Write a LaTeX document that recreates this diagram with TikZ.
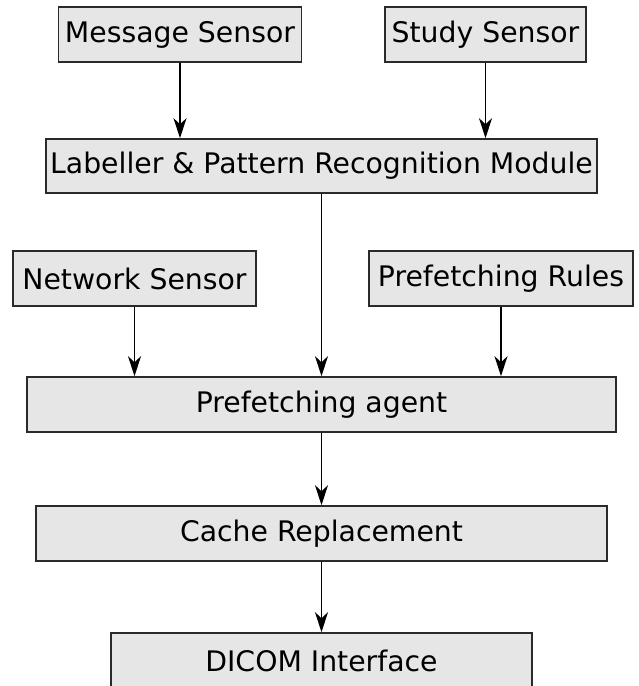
\documentclass[tikz,border=0pt]{standalone}
\usepackage{fontspec}
\setmainfont{DejaVu Sans}
\usetikzlibrary{arrows.meta,positioning}
\definecolor{boxfill}{HTML}{E6E6E6}
\definecolor{boxline}{HTML}{2A2A2A}
\begin{document}
\begin{tikzpicture}[x=1pt,y=-1pt,>={Stealth[length=20pt,width=13pt,inset=6pt]},
  block/.style={draw=boxline,line width=1.6pt,fill=boxfill,inner sep=0pt,
    minimum height=55pt,font=\fontsize{28.3}{32}\selectfont},
  flow/.style={->,line width=1.5pt,black}]
  \useasboundingbox (0,0) rectangle (638,686);
  % sensors on top
  \node[block,minimum width=243pt] (msg) at (180,34.5) {Message Sensor};
  \node[block,minimum width=201pt] (study) at (485.5,34.5) {Study Sensor};
  \node[block,minimum width=551pt,minimum height=54pt] (label) at (321.5,166) {Labeller \& Pattern Recognition Module};

  % second row
  \node[block,minimum width=243pt] (net) at (134.5,278.5) {Network Sensor};
  \node[block,minimum width=264pt] (rules) at (501,278.5) {Prefetching Rules};

  % main chain
  \node[block,minimum width=589pt] (agent) at (321.5,404.5) {Prefetching agent};
  \node[block,minimum width=571pt] (cache) at (321.5,533.5) {Cache Replacement};
  \node[block,minimum width=421pt] (dicom) at (321.5,660.5) {DICOM Interface};

  \draw[flow] (msg) -- (msg |- label.north);
  \draw[flow] (study) -- (study |- label.north);
  \draw[flow] (label) -- (label |- agent.north);
  \draw[flow] (net) -- (net |- agent.north);
  \draw[flow] (rules) -- (rules |- agent.north);
  \draw[flow] (agent) -- (cache);
  \draw[flow] (cache) -- (dicom);
\end{tikzpicture}
\end{document}
